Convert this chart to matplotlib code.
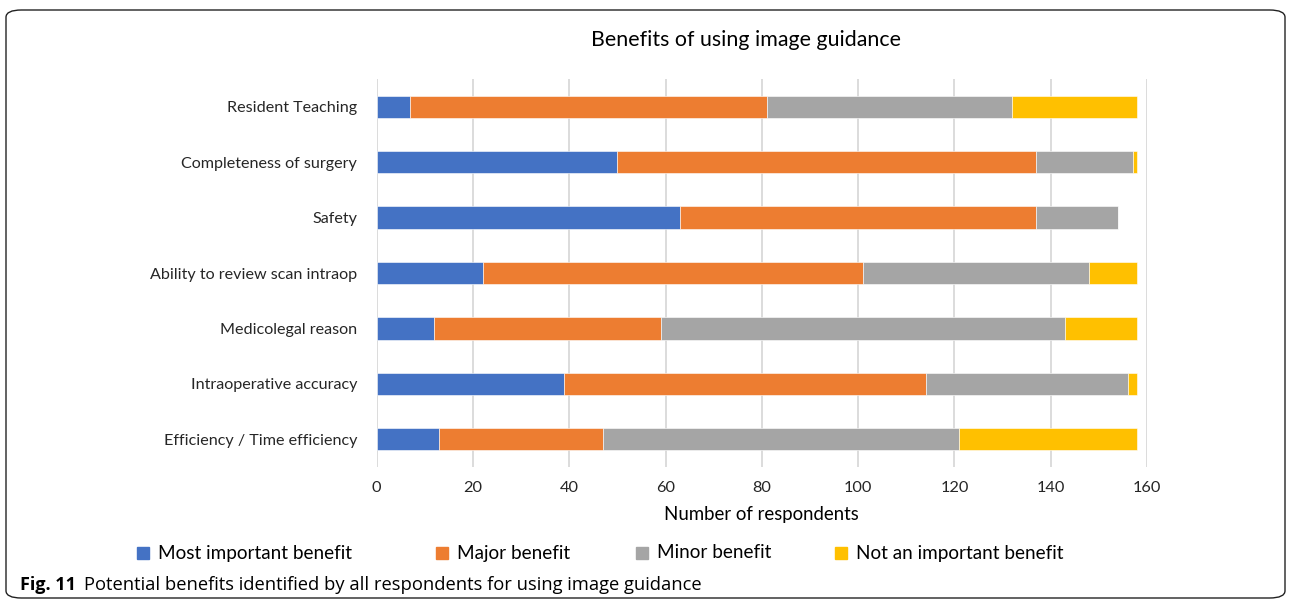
import matplotlib
matplotlib.use("Agg")
import matplotlib.pyplot as plt
from matplotlib.patches import FancyBboxPatch, Rectangle
import numpy as np

plt.rcParams['font.family'] = ['Lato', 'DejaVu Sans']

categories = ["Resident Teaching", "Completeness of surgery", "Safety",
              "Ability to review scan intraop", "Medicolegal reason",
              "Intraoperative accuracy", "Efficiency / Time efficiency"]
most_important = [7, 50, 63, 22, 12, 39, 13]
major = [74, 87, 74, 79, 47, 75, 34]
minor = [51, 20, 17, 47, 84, 42, 74]
not_important = [26, 1, 0, 10, 15, 2, 37]
series_names = ["Most important benefit", "Major benefit", "Minor benefit",
                "Not an important benefit"]
colors = ["#4472C4", "#ED7D31", "#A5A5A5", "#FFC000"]
xticks = [0, 20, 40, 60, 80, 100, 120, 140, 160]

W, H = 1290, 606
fig = plt.figure(figsize=(W/100, H/100), dpi=100)
ax = fig.add_axes([376.7/W, 1-467/H, (1147-376.7)/W, (467-79)/H])

y = np.arange(len(categories))
left = np.zeros(len(categories))
for vals, c, name in zip([most_important, major, minor, not_important], colors, series_names):
    ax.barh(y, vals, left=left, height=0.4, color=c, edgecolor='white', linewidth=0.4,
            label=name, zorder=3)
    left = left + np.array(vals)

ax.set_ylim(len(categories)-0.5, -0.5)
ax.set_xlim(0, 160)
ax.set_xticks(xticks)
ax.set_yticks(y)
ax.set_yticklabels(categories, fontsize=11.6, color='#262626')
ax.tick_params(axis='x', labelsize=11.8, colors='#262626', length=0, pad=10)
ax.tick_params(axis='y', length=0, pad=14)
ax.grid(axis='x', color='#d9d9d9', linewidth=1.3, zorder=0)
for s in ax.spines.values():
    s.set_visible(False)
ax.set_xlabel("Number of respondents", fontsize=13.4, color='#000000', labelpad=8)

fig.text(746/W, 1-40/H, "Benefits of using image guidance", fontsize=15.4,
         ha='center', va='center', color='#000000')

# legend
leg_x = [137, 436, 636, 835]
for lx, c, name in zip(leg_x, colors, series_names):
    fig.patches.append(Rectangle((lx/W, 1-559/H), 12/W, 12/H, transform=fig.transFigure,
                                 color=c, figure=fig))
    fig.text((lx+21)/W, 1-553/H, name, fontsize=13.6, ha='left', va='center', color='#000000')

# border
fig.patches.append(FancyBboxPatch((6/W, 8/H), (1279)/W, (588)/H,
                                  boxstyle="round,pad=0,rounding_size=0.012",
                                  transform=fig.transFigure, fill=False,
                                  edgecolor='#222222', linewidth=1.0, figure=fig))

fig.text(20/W, 1-585/H, "Fig. 11", fontsize=13, fontweight='bold', ha='left',
         va='center', color='#000000', family=['Open Sans', 'DejaVu Sans'])
fig.text(84/W, 1-585/H, "Potential benefits identified by all respondents for using image guidance",
         fontsize=13.2, ha='left', va='center', color='#000000',
         family=['Open Sans', 'DejaVu Sans'])

fig.savefig("out.png", dpi=100)
